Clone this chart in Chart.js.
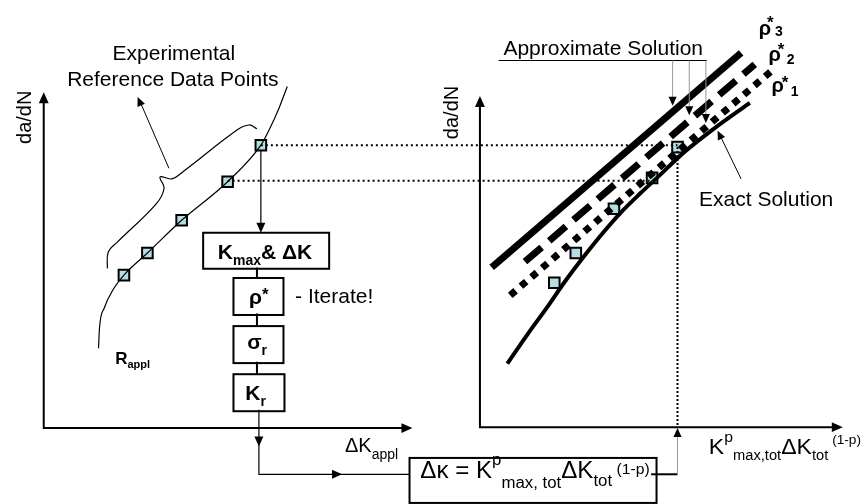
<!DOCTYPE html>
<html>
<head>
<meta charset="utf-8">
<script src="https://cdn.jsdelivr.net/npm/chart.js@4"></script>
<style>
  body { margin: 0; background: #fff; }
  #wrap { width: 866px; height: 504px; }
</style>
</head>
<body>
<div id="wrap"><canvas id="diagram" width="866" height="504"></canvas></div>
<script>
// Schematic in image units (x right, y down)

// left panel: experimental points and the curve through them
const leftPoints = [[117, 276], [141, 253], [176, 219], [223, 179], [257, 141]];
const leftCurve = [[91, 352], [92, 331], [97, 310], [106, 291], [117, 276], [141, 253], [176, 219], [223, 179], [257, 141], [266, 124], [275, 104], [284, 80]];
const braceLine = [[100, 269], [101, 252], [110, 242], [150, 202], [158, 186], [154, 174], [166, 176], [178, 168], [233, 125], [245, 120], [253, 124]];

// right panel: approximate lines, exact curve, reference points
const rightPoints = [[557, 284], [579, 253], [618, 207], [657, 175], [683, 143]];
const rho3Line = [[493, 268], [748, 45]];
const rho2Line = [[527, 262], [762, 57]];
const rho1Line = [[512, 297], [780, 63]];
const exactCurve = [[509, 368], [530, 337], [550, 309], [567, 284], [587, 257], [606, 233], [625, 211], [645, 191], [662, 175], [689, 149], [720, 124], [757, 97]];

// dotted projections
const projTop = [[257, 141], [683, 141]];
const projMid = [[223, 178], [656, 178]];
const projDown = [[683, 143], [683, 433]];

// axes [x0, y0, xEnd, yTop]
const leftAxes = [35, 435, 412, 86];
const rightAxes = [481, 434, 852, 90];

// flow boxes [x, y, w, h]
const flowBoxes = [[198, 232, 126, 36], [229, 279, 50, 37], [229, 329, 50, 37], [229, 379, 51, 37], [409, 466, 247, 45]];

const toXY = arr => arr.map(p => ({ x: p[0], y: p[1] }));
const FONT = 'px "Liberation Sans", Arial, sans-serif';

const pointStyle = {
  showLine: false, pointStyle: 'rect', pointRadius: 7.5,
  pointBackgroundColor: '#b4dfe1', pointBorderColor: '#000', pointBorderWidth: 2
};

function line(data, width, extra) {
  return Object.assign({
    data: toXY(data), showLine: true, borderColor: '#000', borderWidth: width,
    pointRadius: 0, fill: false, borderCapStyle: 'butt'
  }, extra || {});
}

// draw text made of parts [text, size, dy, bold, dx, noAdvance]
function rich(ctx, x, y, parts, stretch) {
  ctx.save();
  ctx.translate(x, y);
  ctx.scale(stretch || 1, 1);
  let cx = 0;
  parts.forEach(p => {
    ctx.font = (p[3] ? 'bold ' : '') + p[1] + FONT;
    const px = cx + (p[4] || 0);
    ctx.fillText(p[0], px, p[2]);
    if (!p[5]) cx = px + ctx.measureText(p[0]).width;
  });
  ctx.restore();
}

function arrowHead(ctx, x, y, dir, size) {
  ctx.save();
  ctx.translate(x, y);
  ctx.rotate(dir);
  ctx.beginPath();
  ctx.moveTo(0, 0);
  ctx.lineTo(-size, -size * 0.45);
  ctx.lineTo(-size, size * 0.45);
  ctx.closePath();
  ctx.fillStyle = '#000';
  ctx.fill();
  ctx.restore();
}

const diagramPlugin = {
  id: 'diagram',
  afterDatasetsDraw(chart) {
    const ctx = chart.ctx;
    const sx = v => chart.scales.x.getPixelForValue(v);
    const sy = v => chart.scales.y.getPixelForValue(v);
    ctx.save();
    ctx.fillStyle = '#000';
    ctx.strokeStyle = '#000';
    ctx.textBaseline = 'alphabetic';

    // axes
    [leftAxes, rightAxes].forEach(a => {
      ctx.lineWidth = 2;
      ctx.beginPath();
      ctx.moveTo(sx(a[0]), sy(a[3]) + 6);
      ctx.lineTo(sx(a[0]), sy(a[1]));
      ctx.lineTo(sx(a[2]) - 6, sy(a[1]));
      ctx.stroke();
      arrowHead(ctx, sx(a[0]), sy(a[3]), -Math.PI / 2, 11);
      arrowHead(ctx, sx(a[2]), sy(a[1]), 0, 11);
    });

    // flow boxes
    ctx.lineWidth = 2;
    flowBoxes.forEach(b => ctx.strokeRect(sx(b[0]), sy(b[1]), b[2], b[3]));

    // box connectors
    ctx.beginPath();
    ctx.moveTo(sx(253), sy(268)); ctx.lineTo(sx(253), sy(279));
    ctx.moveTo(sx(253), sy(316)); ctx.lineTo(sx(253), sy(329));
    ctx.moveTo(sx(253), sy(366)); ctx.lineTo(sx(253), sy(379));
    ctx.stroke();

    // flow arrows
    ctx.lineWidth = 1.2;
    ctx.beginPath();
    ctx.moveTo(sx(257), sy(147)); ctx.lineTo(sx(257), sy(225));
    ctx.moveTo(sx(255), sy(416)); ctx.lineTo(sx(255), sy(483)); ctx.lineTo(sx(409), sy(483));
    ctx.stroke();
    arrowHead(ctx, sx(257), sy(232), Math.PI / 2, 10);
    arrowHead(ctx, sx(255), sy(454), Math.PI / 2, 10);
    arrowHead(ctx, sx(340), sy(483), 0, 10);

    ctx.lineWidth = 2;
    ctx.beginPath();
    ctx.moveTo(sx(656), sy(483)); ctx.lineTo(sx(683), sy(483));
    ctx.stroke();
    ctx.strokeStyle = '#999';
    ctx.lineWidth = 1;
    ctx.beginPath();
    ctx.moveTo(sx(683), sy(483)); ctx.lineTo(sx(683), sy(440));
    ctx.stroke();
    arrowHead(ctx, sx(683), sy(435), -Math.PI / 2, 9);

    // arrow from brace to label
    ctx.strokeStyle = '#000';
    ctx.lineWidth = 1;
    ctx.beginPath();
    ctx.moveTo(sx(163), sy(165)); ctx.lineTo(sx(134), sy(97));
    ctx.stroke();
    arrowHead(ctx, sx(131), sy(91), Math.atan2(-74, -32), 9);

    // approximate solution leader
    ctx.beginPath();
    ctx.moveTo(sx(500), sy(53)); ctx.lineTo(sx(713), sy(53));
    ctx.stroke();
    ctx.strokeStyle = '#999';
    ctx.beginPath();
    [[678, 98], [695, 108], [712, 116]].forEach(t => {
      ctx.moveTo(sx(t[0]), sy(53)); ctx.lineTo(sx(t[0]), sy(t[1]) - 5);
    });
    ctx.stroke();
    [[678, 100], [695, 110], [712, 118]].forEach(t => arrowHead(ctx, sx(t[0]), sy(t[1]), Math.PI / 2, 9));

    // exact solution arrow
    ctx.strokeStyle = '#000';
    ctx.beginPath();
    ctx.moveTo(sx(748), sy(176)); ctx.lineTo(sx(727), sy(132));
    ctx.stroke();
    arrowHead(ctx, sx(724), sy(126), Math.atan2(-50, -24), 9);

    // texts
    ctx.fillStyle = '#000';
    ctx.textAlign = 'center';
    ctx.font = '21' + FONT;
    ctx.fillText('Experimental', sx(168), sy(52));
    ctx.fillText('Reference Data Points', sx(167), sy(79));
    ctx.textAlign = 'left';
    ctx.fillText('Approximate Solution', sx(505), sy(47));
    ctx.fillText('Exact Solution', sx(705), sy(204));
    ctx.fillText('- Iterate!', sx(292), sy(305));

    // rotated axis titles
    [[22, 112], [459, 107]].forEach(p => {
      ctx.save();
      ctx.translate(sx(p[0]), sy(p[1]));
      ctx.rotate(-Math.PI / 2);
      ctx.textAlign = 'center';
      ctx.font = '20' + FONT;
      ctx.fillText('da/dN', 0, 0);
      ctx.restore();
    });
    ctx.textAlign = 'left';

    rich(ctx, sx(343), sy(460), [['\u0394K', 20, 0], ['appl', 14, 7]]);
    rich(ctx, sx(108), sy(368), [['R', 17, 0, true], ['appl', 11, 4, true]]);
    rich(ctx, sx(213), sy(259), [['K', 21, 0, true], ['max', 14, 6, true], ['& \u0394K', 21, 0, true]]);
    rich(ctx, sx(245), sy(306), [['\u03c1', 21, 0, true], ['*', 17, -4, true]]);
    rich(ctx, sx(243), sy(353), [['\u03c3', 21, 0, true], ['r', 14, 6, true]]);
    rich(ctx, sx(241), sy(406), [['K', 21, 0, true], ['r', 14, 6, true]]);

    rich(ctx, sx(766), sy(27), [['\u03c1', 20, 0, true], ['*', 17, -7, true, -4, true], ['3', 14, 1, true, 4]]);
    rich(ctx, sx(776), sy(54), [['\u03c1', 20, 0, true], ['*', 17, -6, true, -3, true], ['2', 14, 3, true, 6]]);
    rich(ctx, sx(779), sy(86), [['\u03c1', 20, 0, true], ['*', 17, -4, true, -2, true], ['1', 14, 4, true, 7]]);

    rich(ctx, sx(715), sy(462), [['K', 22, 0], ['p', 15, -12], ['max,tot', 14, 6], ['\u0394K', 22, 0], ['tot', 14, 6], [' (1-p)', 13, -10]], 1.05);
    rich(ctx, sx(420), sy(487), [['\u0394\u03ba = K', 23, 0], ['p', 16, -13], ['max, tot', 16, 10], ['\u0394K', 23, 0], ['tot', 16, 8], [' (1-p)', 15, -4]], 1.05);

    ctx.restore();
  }
};

new Chart(document.getElementById('diagram'), {
  type: 'scatter',
  data: {
    datasets: [
      line(projTop, 2, { borderDash: [2, 3] }),
      line(projMid, 2, { borderDash: [2, 3] }),
      line(projDown, 2, { borderDash: [2, 2] }),
      line(leftCurve, 1.2, { cubicInterpolationMode: 'monotone' }),
      line(braceLine, 1.2, { tension: 0.4 }),
      Object.assign({ data: toXY(leftPoints) }, pointStyle),
      line(rho3Line, 7),
      line(rho2Line, 7, { borderDash: [22, 10] }),
      line(rho1Line, 7, { borderDash: [7, 7] }),
      line(exactCurve, 4, { cubicInterpolationMode: 'monotone' }),
      Object.assign({ data: toXY(rightPoints) }, pointStyle)
    ]
  },
  options: {
    responsive: false,
    animation: false,
    layout: { padding: 0 },
    plugins: { legend: { display: false }, tooltip: { enabled: false } },
    scales: {
      x: { type: 'linear', min: 0, max: 866, display: false },
      y: { type: 'linear', min: 0, max: 504, reverse: true, display: false }
    }
  },
  plugins: [diagramPlugin]
});
</script>
</body>
</html>
